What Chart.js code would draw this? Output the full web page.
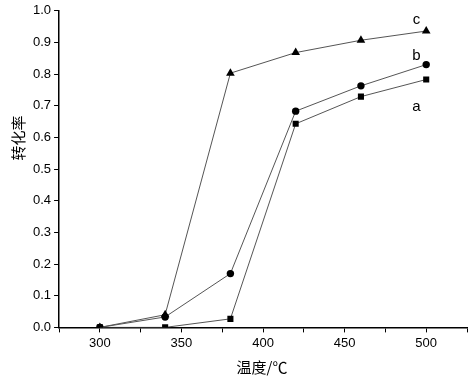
<!DOCTYPE html>
<html>
<head>
<meta charset="utf-8">
<script src="https://cdn.jsdelivr.net/npm/chart.js@4/dist/chart.umd.min.js"></script>
<style>
  html, body { margin: 0; padding: 0; background: #fff; }
  #wrap { width: 474px; height: 381px; position: relative; }
</style>
</head>
<body>
<div id="wrap"><canvas id="chart"></canvas></div>
<script>
// 温度 (°C)
var temps = [300, 340, 380, 420, 460, 500];
// 转化率 per curve
var seriesA = [0.0, 0.0, 0.027, 0.643, 0.729, 0.783];
var seriesB = [0.0, 0.033, 0.17, 0.683, 0.763, 0.83];
var seriesC = [0.0, 0.04, 0.803, 0.868, 0.907, 0.936];
// curve labels: name, x value, y value
var curveNames = ['a', 'b', 'c'];
var curveLabelX = [494, 494, 494];
var curveLabelY = [0.697, 0.857, 0.972];

var xTitle = '温度/℃';
var yTitle = '转化率';

function toPoints(ys) {
    return temps.map(function(t, i) { return { x: t, y: ys[i] }; });
}

function makeSet(label, ys, style, r) {
    return {
        label: label,
        data: toPoints(ys),
        borderColor: '#555',
        borderWidth: 1,
        backgroundColor: '#000',
        pointBackgroundColor: '#000',
        pointBorderColor: '#000',
        pointStyle: style,
        pointRadius: r,
        pointBorderWidth: 0,
        fill: false,
        tension: 0
    };
}

// draw the a/b/c tags and the axis titles
var textPlugin = {
    id: 'texts',
    afterDraw: function(chart) {
        var ctx = chart.ctx;
        var xs = chart.scales.x, ys = chart.scales.y;
        ctx.save();
        ctx.fillStyle = '#000';
        ctx.textAlign = 'center';
        ctx.textBaseline = 'middle';
        ctx.font = '15px "Liberation Sans", Arial, sans-serif';
        for (var i = 0; i < curveNames.length; i++) {
            ctx.fillText(curveNames[i], xs.getPixelForValue(curveLabelX[i]), ys.getPixelForValue(curveLabelY[i]));
        }
        ctx.font = '15px "Noto Sans CJK SC", sans-serif';
        ctx.fillText(xTitle, 262, 367);
        ctx.translate(18, 138);
        ctx.rotate(-Math.PI / 2);
        ctx.fillText(yTitle, 0, 0);
        ctx.restore();
    }
};

new Chart(document.getElementById('chart'), {
    type: 'line',
    data: {
        datasets: [
            makeSet('a', seriesA, 'rect', 4.3),
            makeSet('b', seriesB, 'circle', 3.7),
            makeSet('c', seriesC, 'triangle', 5)
        ]
    },
    options: {
        responsive: true,
        maintainAspectRatio: false,
        animation: false,
        layout: { padding: { left: 30, right: 7, top: 8, bottom: 27 } },
        plugins: { legend: { display: false }, tooltip: { enabled: false } },
        scales: {
            x: {
                type: 'linear',
                min: 275,
                max: 525,
                border: { color: '#000', width: 1.5 },
                grid: { drawOnChartArea: false, drawTicks: true, tickLength: 5, color: '#000' },
                ticks: {
                    stepSize: 25,
                    autoSkip: false,
                    maxRotation: 0,
                    color: '#000',
                    padding: 3,
                    font: { family: '"Liberation Sans", Arial, sans-serif', size: 13 },
                    callback: function(v) { return (v % 50 === 0 && v > 275 && v < 525) ? v : ''; }
                }
            },
            y: {
                min: 0,
                max: 1,
                border: { color: '#000', width: 1.5 },
                grid: { drawOnChartArea: false, drawTicks: true, tickLength: 5, color: '#000' },
                ticks: {
                    stepSize: 0.1,
                    color: '#000',
                    padding: 3,
                    font: { family: '"Liberation Sans", Arial, sans-serif', size: 13 },
                    callback: function(v) { return v.toFixed(1); }
                }
            }
        }
    },
    plugins: [textPlugin]
});
</script>
</body>
</html>
